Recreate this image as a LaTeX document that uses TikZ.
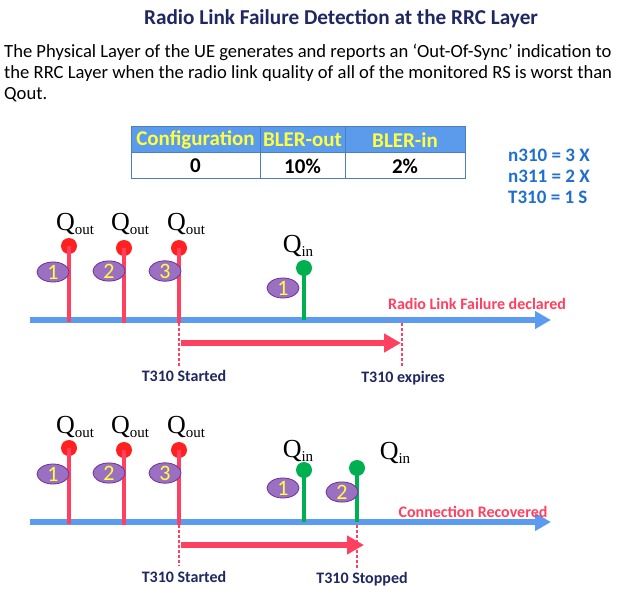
\documentclass[tikz,border=0pt]{standalone}
\usepackage{fontspec}
\setmainfont{Carlito}
\newfontfamily\qfont{Liberation Serif}
\usetikzlibrary{arrows.meta,shapes.geometric}
\definecolor{navy}{HTML}{1F2860}
\definecolor{tblue}{HTML}{5B9BEB}
\definecolor{tborder}{HTML}{4A7FC0}
\definecolor{lineblue}{HTML}{5B9BF0}
\definecolor{rred}{HTML}{FF4060}
\definecolor{ballred}{HTML}{FF2020}
\definecolor{ggreen}{HTML}{00B050}
\definecolor{purp}{HTML}{9B70C0}
\definecolor{purpb}{HTML}{7030A0}
\definecolor{yel}{HTML}{FFFF40}
\definecolor{nblue}{HTML}{1F6FD0}
\tikzset{
  timeline/.style={line width=6.5pt, lineblue, -{Triangle[length=16pt,width=17pt]}},
  timerarrow/.style={line width=5.5pt, rred, -{Triangle[length=17pt,width=18pt]}},
  redstem/.style={line width=3.2pt, rred},
  greenstem/.style={line width=3.2pt, ggreen},
  redball/.style={circle, fill=ballred, minimum size=16pt, inner sep=0pt},
  greenball/.style={circle, fill=ggreen, minimum size=16pt, inner sep=0pt},
  numell/.style={ellipse, fill=purp, draw=purpb, line width=0.8pt, minimum width=32pt, minimum height=18pt, inner sep=0pt, text=yel, font=\fontsize{22}{22}\selectfont},
  qlab/.style={inner sep=0pt, font=\qfont\fontsize{26}{26}\selectfont},
  dotline/.style={rred, line width=2.5pt, dash pattern=on 2.5pt off 2.5pt},
  tlabel/.style={inner sep=0pt, text=navy, font=\bfseries\fontsize{16}{16}\selectfont},
  eventlabel/.style={inner sep=0pt, text=rred, font=\bfseries\fontsize{16}{16}\selectfont},
  thead/.style={fill=tblue, draw=tborder, line width=0.8pt},
  tcell/.style={fill=white, draw=tborder, line width=0.8pt},
  theadtext/.style={inner sep=0pt, text=yel, font=\bfseries\fontsize{21}{21}\selectfont},
  tcelltext/.style={inner sep=0pt, text=black, font=\bfseries\fontsize{21}{21}\selectfont},
  param/.style={inner sep=0pt, anchor=west, text=nblue, font=\bfseries\fontsize{19}{19}\selectfont},
}
\newcommand{\qout}{Q\raisebox{-4pt}{\fontsize{15}{15}\selectfont out}}
\newcommand{\qin}{Q\raisebox{-4pt}{\fontsize{15}{15}\selectfont in}}
\begin{document}
\begin{tikzpicture}[x=1pt,y=-1pt]
\useasboundingbox[fill=white] (0,0) rectangle (636,602);
% title and text
\node[inner sep=0pt, text=navy, font=\bfseries\fontsize{21.2}{21.2}\selectfont] (title) at (341,19) {Radio Link Failure Detection at the RRC Layer};
\node[inner sep=0pt, anchor=north west, align=left, text=black, font=\fontsize{18.6}{21}\selectfont] (body) at (4,44) {The Physical Layer of the UE generates and reports an ‘Out-Of-Sync’ indication to\\the RRC Layer when the radio link quality of all of the monitored RS is worst than\\Qout.};
% table
\path[thead] (131,126) rectangle (260,152);
\path[thead] (260,126) rectangle (345,152);
\path[thead] (345,126) rectangle (465,152);
\path[tcell] (131,152) rectangle (260,178);
\path[tcell] (260,152) rectangle (345,178);
\path[tcell] (345,152) rectangle (465,178);
\node[theadtext] (h1) at (195.5,140) {Configuration};
\node[theadtext] (h2) at (302.5,140) {BLER-out};
\node[theadtext] (h3) at (405,140) {BLER-in};
\node[tcelltext] (c1) at (195.5,166) {0};
\node[tcelltext] (c2) at (302.5,166) {10\%};
\node[tcelltext] (c3) at (405,166) {2\%};
% parameters
\node[param] (p1) at (508,155) {n310 = 3 X};
\node[param] (p2) at (508,176) {n311 = 2 X};
\node[param] (p3) at (508,197) {T310 = 1 S};

% ===== upper timeline =====
\coordinate (ta0) at (30,320);
\coordinate (ta1) at (551,320);
\draw[timeline] (ta0) -- (ta1);
% out-of-sync stems
\coordinate (ab1) at (69,322); \coordinate (ab2) at (124,323); \coordinate (ab3) at (179,323);
\node[redball] (ao1) at (69,246) {};
\node[redball] (ao2) at (124,248) {};
\node[redball] (ao3) at (179,248) {};
\draw[redstem] (ab1) -- (ao1.center);
\draw[redstem] (ab2) -- (ao2.center);
\draw[redstem] (ab3) -- (ao3.center);
\node[qlab] (aq1) at (75,224) {\qout};
\node[qlab] (aq2) at (130,224) {\qout};
\node[qlab] (aq3) at (186,224) {\qout};
\node[numell] (ae1) at (53,272) {1};
\node[numell] (ae2) at (109,271) {2};
\node[numell] (ae3) at (165,271) {3};
% in-sync
\coordinate (agb1) at (304,320);
\node[greenball] (ag1) at (304,268) {};
\draw[greenstem] (agb1) -- (ag1.center);
\node[qlab] (aqi1) at (298,246) {\qin};
\node[numell] (age1) at (283,288) {1};
\node[eventlabel] (rlf) at (477,304) {Radio Link Failure declared};
% timer
\coordinate (ad0) at (179,323); \coordinate (ad1) at (179,367);
\draw[dotline] (ad0) -- (ad1);
\coordinate (ar0) at (181,343); \coordinate (ar1) at (401,343);
\draw[timerarrow] (ar0) -- (ar1);
\coordinate (ae0) at (402,323); \coordinate (aee) at (402,366);
\draw[dotline] (ae0) -- (aee);
\node[tlabel] (ast) at (184,376) {T310 Started};
\node[tlabel] (aex) at (403,378) {T310 expires};

% ===== lower timeline =====
\coordinate (tb0) at (30,522);
\coordinate (tb1) at (551,522);
\draw[timeline] (tb0) -- (tb1);
\coordinate (bb1) at (69,524); \coordinate (bb2) at (124,525); \coordinate (bb3) at (179,525);
\node[redball] (bo1) at (69,448) {};
\node[redball] (bo2) at (124,450) {};
\node[redball] (bo3) at (179,450) {};
\draw[redstem] (bb1) -- (bo1.center);
\draw[redstem] (bb2) -- (bo2.center);
\draw[redstem] (bb3) -- (bo3.center);
\node[qlab] (bq1) at (75,427) {\qout};
\node[qlab] (bq2) at (130,427) {\qout};
\node[qlab] (bq3) at (186,427) {\qout};
\node[numell] (be1) at (53,474) {1};
\node[numell] (be2) at (109,473) {2};
\node[numell] (be3) at (165,473) {3};
\coordinate (bgb1) at (304,522); \coordinate (bgb2) at (357,522);
\node[greenball] (bg1) at (304,470) {};
\node[greenball] (bg2) at (357,468) {};
\draw[greenstem] (bgb1) -- (bg1.center);
\draw[greenstem] (bgb2) -- (bg2.center);
\node[qlab] (bqi1) at (298,451) {\qin};
\node[qlab] (bqi2) at (395,453) {\qin};
\node[numell] (bge1) at (283,488) {1};
\node[numell] (bge2) at (342,492) {2};
\node[eventlabel] (crec) at (473,512) {Connection Recovered};
\coordinate (bd0) at (179,525); \coordinate (bd1) at (179,566);
\draw[dotline] (bd0) -- (bd1);
\coordinate (br0) at (181,545); \coordinate (br1) at (364,545);
\draw[timerarrow] (br0) -- (br1);
\coordinate (bs0) at (357,525); \coordinate (bs1) at (357,568);
\draw[dotline] (bs0) -- (bs1);
\node[tlabel] (bst) at (184,577) {T310 Started};
\node[tlabel] (bsp) at (362,579) {T310 Stopped};
\end{tikzpicture}
\end{document}
